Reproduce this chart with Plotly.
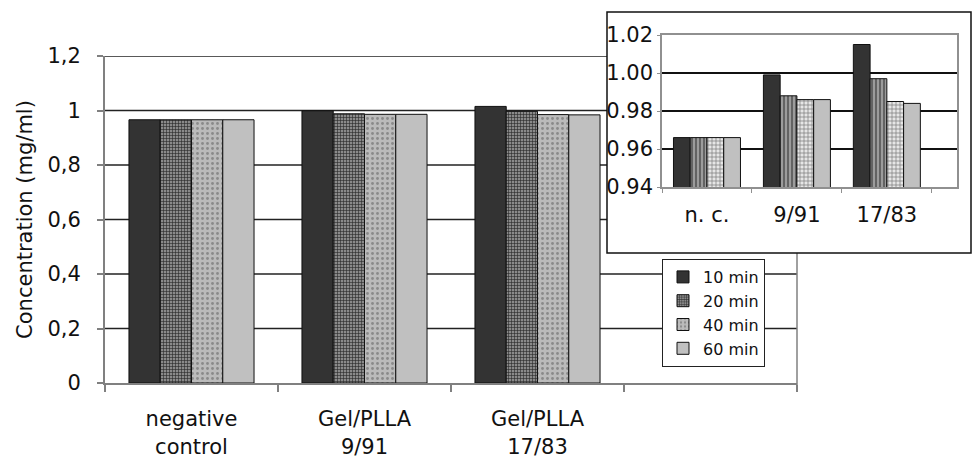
import plotly.graph_objects as go

# ---- data ----
categories = ["negative<br>control", "Gel/PLLA<br>9/91", "Gel/PLLA<br>17/83"]
inset_categories = ["n. c.", "9/91", "17/83"]
series_names = ["10 min", "20 min", "40 min", "60 min"]
min10 = [0.966, 0.999, 1.015]
min20 = [0.966, 0.988, 0.997]
min40 = [0.966, 0.986, 0.985]
min60 = [0.966, 0.986, 0.984]
series_values = [min10, min20, min40, min60]
y_tickvals = [0, 0.2, 0.4, 0.6, 0.8, 1.0, 1.2]
y_ticktext = ["0", "0,2", "0,4", "0,6", "0,8", "1", "1,2"]
inset_tickvals = [0.94, 0.96, 0.98, 1.00, 1.02]

FONT = "DejaVu Sans, Liberation Sans, Arial, sans-serif"

main_styles = [
    dict(color="#333333", pattern=dict(shape="")),
    dict(color="#7a7a7a", pattern=dict(shape="+", bgcolor="#8a8a8a", fgcolor="#262626", size=3, solidity=0.35)),
    dict(color="#b8b8b8", pattern=dict(shape=".", bgcolor="#bbbbbb", fgcolor="#8a8a8a", size=5, solidity=0.25)),
    dict(color="#c0c0c0", pattern=dict(shape="")),
]
inset_styles = [
    dict(color="#333333", pattern=dict(shape="")),
    dict(color="#8c8c8c", pattern=dict(shape="|", bgcolor="#9c9c9c", fgcolor="#4a4a4a", size=4, solidity=0.35)),
    dict(color="#d0d0d0", pattern=dict(shape="+", bgcolor="#e6e6e6", fgcolor="#707070", size=4, solidity=0.3)),
    dict(color="#c0c0c0", pattern=dict(shape="")),
]

W, H = 972, 457
ml, mr, mt, mb = 105, 15, 12, 74
pw, ph = W - ml - mr, H - mt - mb


def px_x(p):
    return (p - ml) / pw


def px_y(p):
    return (H - mb - p) / ph


main_right = 797
main_top = 56
main_bottom = H - mb
inset_l, inset_r, inset_t, inset_b = 662, 957, 35, 187
box_l, box_r, box_t, box_b = 607, 971, 12, 253

main_ymax = 1.2
# y-value at the bottom edge of the inset box on the main scale
lower_ymax = main_ymax * (main_bottom - box_b) / (main_bottom - main_top)
# fraction of the main x-domain where the inset box starts
box_frac = (box_l - ml) / (main_right - ml)

fig = go.Figure()

main_gw = 0.723
inset_gw = 0.745
for i, (name, vals) in enumerate(zip(series_names, series_values)):
    w = main_gw / 4
    fig.add_trace(go.Bar(
        x=categories, y=vals, name=name, xaxis="x", yaxis="y",
        width=w, offset=-main_gw / 2 + i * w,
        marker=dict(color=main_styles[i]["color"], pattern=main_styles[i]["pattern"],
                    line=dict(color="#111111", width=1)),
        showlegend=True,
    ))
for i, (name, vals) in enumerate(zip(series_names, series_values)):
    w = inset_gw / 4
    fig.add_trace(go.Bar(
        x=inset_categories, y=vals, name=name, xaxis="x2", yaxis="y2",
        width=w, offset=-inset_gw / 2 + i * w,
        marker=dict(color=inset_styles[i]["color"], pattern=inset_styles[i]["pattern"],
                    line=dict(color="#111111", width=1)),
        showlegend=False,
    ))

grid_color = "#222222"
shapes = [
    # white background of the inset box
    dict(type="rect", xref="paper", yref="paper", layer="below",
         x0=px_x(box_l), x1=px_x(box_r), y0=px_y(box_b), y1=px_y(box_t),
         fillcolor="white", line=dict(width=0)),
]
# main gridlines (stop at the inset box where it covers them)
for v in y_tickvals[1:]:
    shapes.append(dict(type="line", xref="x domain", yref="y", layer="below",
                       x0=0, x1=(box_frac if v > lower_ymax else 1.0), y0=v, y1=v,
                       line=dict(color=grid_color, width=1.5)))
shapes += [
    # right border of the main plot below the inset
    dict(type="line", xref="paper", yref="paper", layer="above",
         x0=px_x(main_right), x1=px_x(main_right), y0=px_y(main_bottom + 7), y1=px_y(box_b),
         line=dict(color="#808080", width=1.5)),
    # inset box border
    dict(type="rect", xref="paper", yref="paper", layer="above",
         x0=px_x(box_l), x1=px_x(box_r), y0=px_y(box_b), y1=px_y(box_t),
         fillcolor="rgba(0,0,0,0)", line=dict(color="#111111", width=1.5)),
]

fig.update_layout(
    template="none",
    width=W, height=H,
    margin=dict(l=ml, r=mr, t=mt, b=mb, pad=0, autoexpand=False),
    paper_bgcolor="white",
    plot_bgcolor="rgba(0,0,0,0)",
    font=dict(family=FONT, size=21, color="#111111"),
    barmode="overlay",
    showlegend=True,
    legend=dict(
        x=px_x(662), y=px_y(259), xanchor="left", yanchor="top",
        bgcolor="white", bordercolor="#222222", borderwidth=1,
        font=dict(size=16), itemwidth=30, tracegroupgap=0,
    ),
    xaxis=dict(
        domain=[0, px_x(main_right)], anchor="y",
        type="category", categoryorder="array", categoryarray=categories + [" "],
        range=[-0.5, 3.5], tickson="boundaries",
        ticks="outside", ticklen=7, tickcolor="#808080", tickwidth=1.5,
        showline=True, linecolor="#808080", linewidth=2,
        showgrid=False, zeroline=False, ticklabelstandoff=16, automargin=False,
        tickfont=dict(size=21),
    ),
    yaxis=dict(
        domain=[0, px_y(main_top)], anchor="x",
        range=[0, main_ymax], tickvals=y_tickvals, ticktext=y_ticktext,
        ticks="outside", ticklen=6, tickcolor="#808080", tickwidth=1.5,
        showline=True, linecolor="#808080", linewidth=2,
        showgrid=False, zeroline=False, automargin=False,
        ticklabelstandoff=12, tickfont=dict(size=21),
        title=dict(text="Concentration (mg/ml)", font=dict(size=21), standoff=9),
    ),
    xaxis2=dict(
        domain=[px_x(inset_l), px_x(inset_r)], anchor="y2",
        type="category", categoryorder="array", categoryarray=inset_categories,
        range=[-0.5, 2.78], tickson="boundaries",
        ticks="outside", ticklen=4, tickcolor="#909090",
        showline=True, linecolor="#909090", linewidth=1.5, mirror=True,
        showgrid=False, zeroline=False, ticklabelstandoff=8, automargin=False,
        tickfont=dict(size=21),
    ),
    yaxis2=dict(
        domain=[px_y(inset_b), px_y(inset_t)], anchor="x2",
        range=[0.94, 1.02], tickvals=inset_tickvals, tickformat=".2f",
        ticks="outside", ticklen=3, tickcolor="#909090",
        showline=True, linecolor="#909090", linewidth=1.5, mirror=True,
        showgrid=True, gridcolor="#111111", gridwidth=1.5, zeroline=False, automargin=False,
        tickfont=dict(size=21),
    ),
    shapes=shapes,
)

fig.write_html("out.html", config={"displayModeBar": False},
               post_script="document.body.style.margin='0';document.body.style.overflow='hidden';")
